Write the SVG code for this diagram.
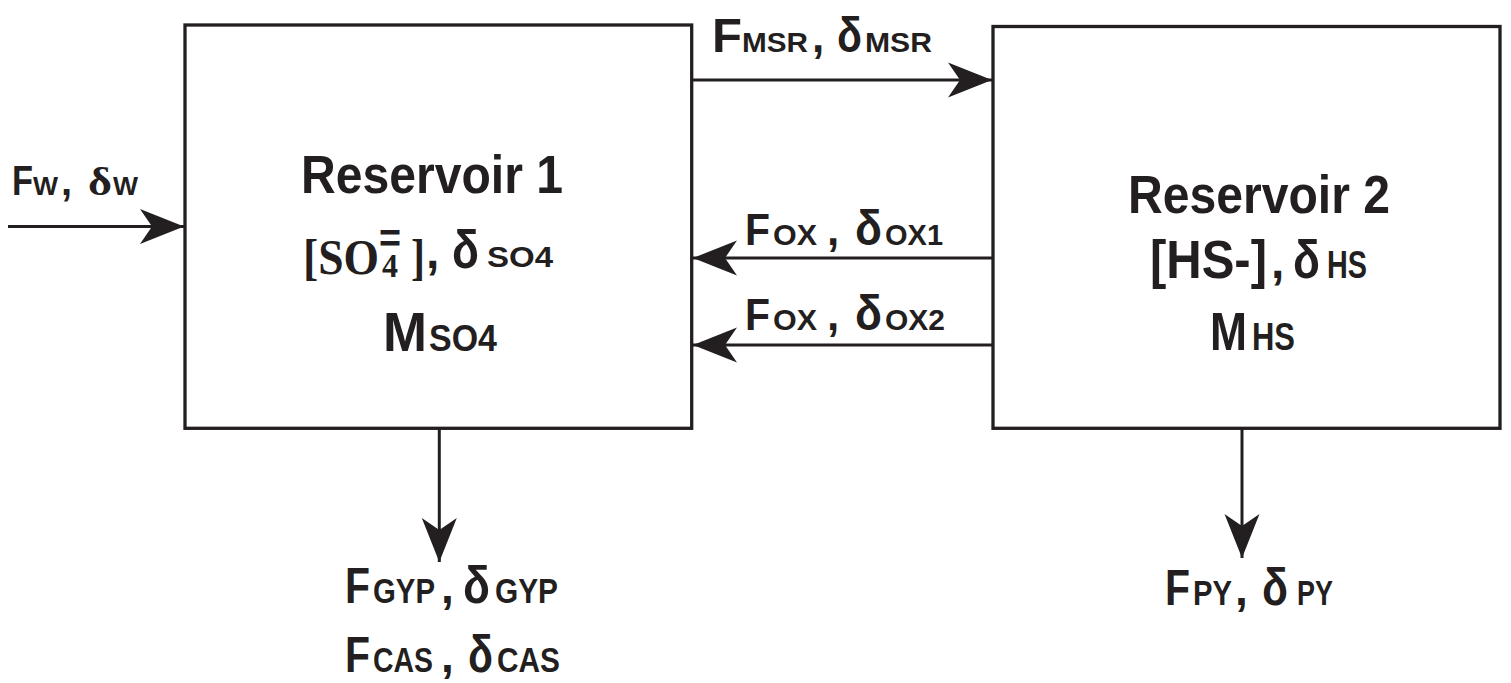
<svg xmlns="http://www.w3.org/2000/svg" width="1511" height="683" viewBox="0 0 1511 683">
<style>
.box{fill:#fff;stroke:#231f20;stroke-width:3.3}
.ln{stroke:#231f20;stroke-width:3;fill:none}
text{fill:#231f20;font-family:"Liberation Sans",Arial,sans-serif;font-weight:bold}
.serif{font-family:"Liberation Serif","Times New Roman",serif}
</style>
<defs>
<marker id="ah" viewBox="-44 -18 44 36" refX="0" refY="0" markerWidth="44" markerHeight="36" markerUnits="userSpaceOnUse" orient="auto">
<path d="M0,0 L-44,-17.5 L-32,0 L-44,17.5 Z" fill="#231f20"/>
</marker>
</defs>
<rect width="1511" height="683" fill="#fff"/>
<g id="reservoir1">
<rect class="box" x="185" y="25" width="506.7" height="403.3"/>
<text x="301" y="193" font-size="53" textLength="262" lengthAdjust="spacingAndGlyphs">Reservoir 1</text>
<text class="serif" x="303" y="274" font-size="50" textLength="76" lengthAdjust="spacingAndGlyphs">[SO</text>
<text class="serif" x="382" y="277" font-size="34" textLength="16" lengthAdjust="spacingAndGlyphs">4</text>
<text x="379" y="252" font-size="40" textLength="22" lengthAdjust="spacingAndGlyphs">=</text>
<text class="serif" x="411" y="274" font-size="50" textLength="14" lengthAdjust="spacingAndGlyphs">]</text>
<text x="426" y="268" font-size="48">,</text>
<text x="452" y="268" font-size="53" textLength="27" lengthAdjust="spacingAndGlyphs">δ</text>
<text x="487" y="267" font-size="29" textLength="66" lengthAdjust="spacingAndGlyphs">SO4</text>
<text x="383" y="351" font-size="55" textLength="44" lengthAdjust="spacingAndGlyphs">M</text>
<text x="429" y="351" font-size="37" textLength="68" lengthAdjust="spacingAndGlyphs">SO4</text>
</g>
<g id="reservoir2">
<rect class="box" x="993" y="26.5" width="507" height="401.8"/>
<text x="1128" y="213" font-size="53" textLength="262" lengthAdjust="spacingAndGlyphs">Reservoir 2</text>
<text x="1150" y="278" font-size="53" textLength="117" lengthAdjust="spacingAndGlyphs">[HS-]</text>
<text x="1271" y="278" font-size="48">,</text>
<text x="1293" y="278" font-size="53" textLength="27" lengthAdjust="spacingAndGlyphs">δ</text>
<text x="1327" y="278" font-size="39" textLength="40" lengthAdjust="spacingAndGlyphs">HS</text>
<text x="1210" y="350" font-size="54" textLength="37" lengthAdjust="spacingAndGlyphs">M</text>
<text x="1252" y="350" font-size="39" textLength="43" lengthAdjust="spacingAndGlyphs">HS</text>
</g>
<g id="label-w">
<text x="12" y="195" font-size="42" textLength="21" lengthAdjust="spacingAndGlyphs">F</text>
<text x="33" y="195" font-size="25" textLength="25" lengthAdjust="spacingAndGlyphs">W</text>
<text x="61" y="195" font-size="40">,</text>
<text class="serif" x="88" y="195" font-size="40" textLength="24" lengthAdjust="spacingAndGlyphs">δ</text>
<text x="113" y="195" font-size="25" textLength="25" lengthAdjust="spacingAndGlyphs">W</text>
</g>
<g id="label-msr">
<text x="712" y="52" font-size="48" textLength="30" lengthAdjust="spacingAndGlyphs">F</text>
<text x="742" y="52" font-size="28" textLength="66" lengthAdjust="spacingAndGlyphs">MSR</text>
<text x="812" y="52" font-size="44">,</text>
<text x="837" y="52" font-size="50" textLength="25" lengthAdjust="spacingAndGlyphs">δ</text>
<text x="865" y="52" font-size="28" textLength="67" lengthAdjust="spacingAndGlyphs">MSR</text>
</g>
<g id="label-ox1">
<text x="745" y="245" font-size="45" textLength="25" lengthAdjust="spacingAndGlyphs">F</text>
<text x="773" y="245" font-size="30" textLength="44" lengthAdjust="spacingAndGlyphs">OX</text>
<text x="827" y="245" font-size="44">,</text>
<text x="855" y="245" font-size="50" textLength="27" lengthAdjust="spacingAndGlyphs">δ</text>
<text x="885" y="245" font-size="30" textLength="58" lengthAdjust="spacingAndGlyphs">OX1</text>
</g>
<g id="label-ox2">
<text x="745" y="330" font-size="45" textLength="25" lengthAdjust="spacingAndGlyphs">F</text>
<text x="773" y="330" font-size="30" textLength="44" lengthAdjust="spacingAndGlyphs">OX</text>
<text x="827" y="330" font-size="44">,</text>
<text x="855" y="330" font-size="50" textLength="27" lengthAdjust="spacingAndGlyphs">δ</text>
<text x="885" y="330" font-size="30" textLength="60" lengthAdjust="spacingAndGlyphs">OX2</text>
</g>
<g id="label-gyp-cas">
<text x="345" y="603" font-size="50" textLength="25" lengthAdjust="spacingAndGlyphs">F</text>
<text x="373" y="603" font-size="35" textLength="62" lengthAdjust="spacingAndGlyphs">GYP</text>
<text x="441" y="603" font-size="46">,</text>
<text x="463" y="603" font-size="52" textLength="27" lengthAdjust="spacingAndGlyphs">δ</text>
<text x="495" y="603" font-size="35" textLength="63" lengthAdjust="spacingAndGlyphs">GYP</text>
<text x="345" y="672" font-size="50" textLength="25" lengthAdjust="spacingAndGlyphs">F</text>
<text x="373" y="672" font-size="35" textLength="60" lengthAdjust="spacingAndGlyphs">CAS</text>
<text x="441" y="672" font-size="46">,</text>
<text x="468" y="672" font-size="52" textLength="25" lengthAdjust="spacingAndGlyphs">δ</text>
<text x="497" y="672" font-size="35" textLength="63" lengthAdjust="spacingAndGlyphs">CAS</text>
</g>
<g id="label-py">
<text x="1165" y="605" font-size="50" textLength="25" lengthAdjust="spacingAndGlyphs">F</text>
<text x="1193" y="605" font-size="35" textLength="39" lengthAdjust="spacingAndGlyphs">PY</text>
<text x="1235" y="605" font-size="46">,</text>
<text x="1262" y="605" font-size="52" textLength="26" lengthAdjust="spacingAndGlyphs">δ</text>
<text x="1297" y="605" font-size="35" textLength="36" lengthAdjust="spacingAndGlyphs">PY</text>
</g>
<g id="connectors">
<line class="ln" x1="8" y1="226.5" x2="184" y2="226.5" marker-end="url(#ah)"/>
<line class="ln" x1="692" y1="80" x2="992" y2="80" marker-end="url(#ah)"/>
<line class="ln" x1="993" y1="258" x2="693" y2="258" marker-end="url(#ah)"/>
<line class="ln" x1="993" y1="345" x2="693" y2="345" marker-end="url(#ah)"/>
<line class="ln" x1="439.3" y1="428" x2="439.3" y2="562" marker-end="url(#ah)"/>
<line class="ln" x1="1242" y1="428" x2="1242" y2="558" marker-end="url(#ah)"/>
</g>
</svg>
